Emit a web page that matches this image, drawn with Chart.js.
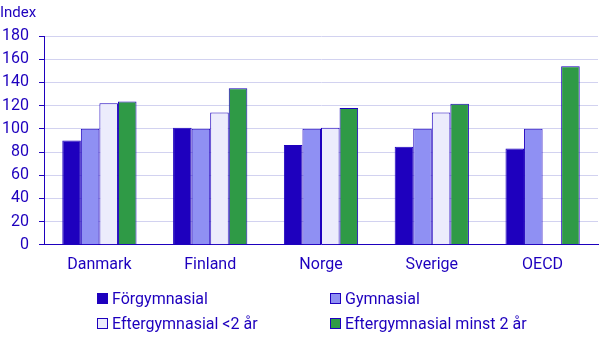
<!DOCTYPE html>
<html>
<head>
<meta charset="utf-8">
<script src="https://cdn.jsdelivr.net/npm/chart.js@4"></script>
<style>
  body { margin: 0; background: #fff; font-family: Roboto, sans-serif; }
  #wrap { position: relative; width: 606px; height: 340px; }
  #box { position: absolute; left: 0; top: 0; width: 606px; height: 289px; }
  #legend { position: absolute; left: 97px; top: 286px; display: grid;
    grid-template-columns: 233px 240px; grid-auto-rows: 25px; color: #1e00be; font-size: 16px; }
  #legend span.item { display: flex; align-items: center; white-space: nowrap; }
  #legend i { display: inline-block; width: 9px; height: 9px; border: 1px solid #1e00be; margin-right: 4px; }
</style>
</head>
<body>
<div id="wrap">
  <div id="box"><canvas id="bars"></canvas></div>
  <div id="legend"></div>
</div>
<script>
var countries = ['Danmark', 'Finland', 'Norge', 'Sverige', 'OECD'];
var seriesNames = ['Förgymnasial', 'Gymnasial', 'Eftergymnasial <2 år', 'Eftergymnasial minst 2 år'];
var forgymnasial = [90, 101, 86, 84.5, 83];
var gymnasial = [100, 100, 100, 100, 100];
var eftergymnasialKort = [122, 114, 101, 114, null];
var eftergymnasialLang = [123.5, 135, 118, 121.5, 154];
var yTicks = [0, 20, 40, 60, 80, 100, 120, 140, 160, 180];

var ink = '#1e00be';
var colors = ['#1e00be', '#8f90f3', '#ececfc', '#2f9a46'];
var values = [forgymnasial, gymnasial, eftergymnasialKort, eftergymnasialLang];

var datasets = seriesNames.map(function(name, i) {
    return {
        label: name,
        data: values[i],
        backgroundColor: colors[i],
        borderColor: ink,
        borderWidth: 1,
        categoryPercentage: 0.67,
        barPercentage: 1
    };
});

var ctx = document.getElementById('bars').getContext('2d');
var chart = new Chart(ctx, {
    type: 'bar',
    data: { labels: countries, datasets: datasets },
    options: {
        responsive: true,
        maintainAspectRatio: false,
        animation: false,
        layout: { padding: { left: 0, right: 8, top: 0, bottom: 3 } },
        plugins: {
            legend: { display: false },
            tooltip: { enabled: false },
            title: {
                display: true,
                text: 'Index',
                align: 'start',
                color: ink,
                font: { family: 'Roboto', size: 15, weight: 'normal' },
                padding: { top: 4, bottom: 14 }
            }
        },
        scales: {
            x: {
                grid: { display: false, drawTicks: false },
                border: { display: true, color: ink, width: 1 },
                ticks: { color: ink, padding: 11, font: { family: 'Roboto', size: 16 } }
            },
            y: {
                min: 0,
                max: 180,
                afterBuildTicks: function(scale) {
                    scale.ticks = yTicks.map(function(v) { return { value: v }; });
                },
                afterFit: function(scale) { scale.width = 44; },
                grid: { color: '#d2d2f0', tickColor: ink, tickLength: 5 },
                border: { color: ink, width: 1 },
                ticks: { color: ink, padding: 10, font: { family: 'Roboto', size: 16 } }
            }
        }
    }
});

var legend = document.getElementById('legend');
seriesNames.forEach(function(name, i) {
    var item = document.createElement('span');
    item.className = 'item';
    var sw = document.createElement('i');
    sw.style.background = colors[i];
    item.appendChild(sw);
    item.appendChild(document.createTextNode(name));
    legend.appendChild(item);
});
</script>
</body>
</html>
